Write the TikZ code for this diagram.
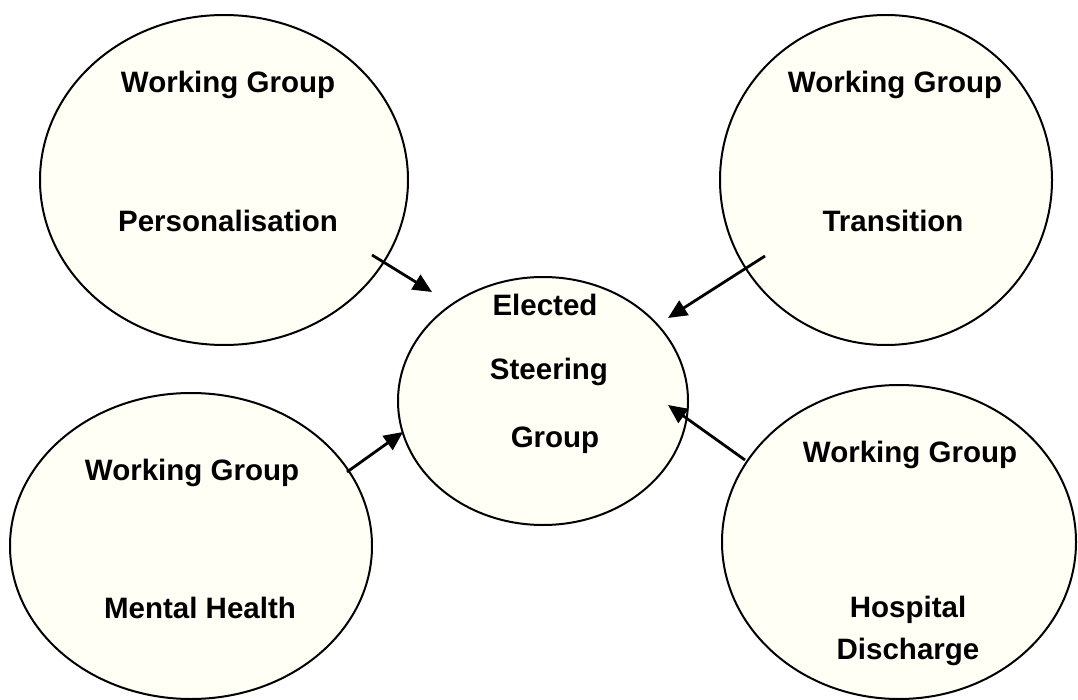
\documentclass[tikz,border=0pt]{standalone}
\usepackage{fontspec}
\setmainfont{Liberation Sans}
\usetikzlibrary{shapes.geometric,arrows.meta}
\definecolor{cream}{HTML}{FFFFF6}
\begin{document}
\begin{tikzpicture}[x=1pt,y=-1pt,
  bubble/.style={draw=black,line width=2pt,fill=cream,ellipse,inner sep=0pt},
  lbl/.style={font=\fontsize{29.5}{34}\selectfont\bfseries,inner sep=0pt,anchor=center},
  link/.style={line width=2.8pt,-{Triangle[length=19pt,width=17pt]}}]
\useasboundingbox (0,0) rectangle (1078,700);
\node[bubble,minimum width=368pt,minimum height=330pt] (pers) at (224,180) {};
\node[bubble,minimum width=332pt,minimum height=330pt] (trans) at (886,180) {};
\node[bubble,minimum width=290pt,minimum height=248pt] (steer) at (543,401) {};
\node[bubble,minimum width=362pt,minimum height=306pt] (ment) at (191,546) {};
\node[bubble,minimum width=354pt,minimum height=314pt] (hosp) at (899,542) {};
\node[lbl] (p1) at (228,85) {Working Group};
\node[lbl] (p2) at (228,221) {Personalisation};
\node[lbl] (t1) at (895,85) {Working Group};
\node[lbl] (t2) at (893,221) {Transition};
\node[lbl] (s1) at (545,305) {Elected};
\node[lbl] (s2) at (549,372) {Steering};
\node[lbl] (s3) at (555,440) {Group};
\node[lbl] (m1) at (192,473) {Working Group};
\node[lbl] (m2) at (200,608) {Mental Health};
\node[lbl] (h1) at (910,455) {Working Group};
\node[lbl] (h2) at (908,610) {Hospital};
\node[lbl] (h3) at (908,652) {Discharge};
\coordinate (a1s) at (372,255); \coordinate (a1e) at (432,292);
\coordinate (a2s) at (765,256); \coordinate (a2e) at (668,318);
\coordinate (a3s) at (347,472); \coordinate (a3e) at (403,432);
\coordinate (a4s) at (745,460); \coordinate (a4e) at (668,405);
\draw[link] (a1s) -- (a1e);
\draw[link] (a2s) -- (a2e);
\draw[link] (a3s) -- (a3e);
\draw[link] (a4s) -- (a4e);
\end{tikzpicture}
\end{document}
